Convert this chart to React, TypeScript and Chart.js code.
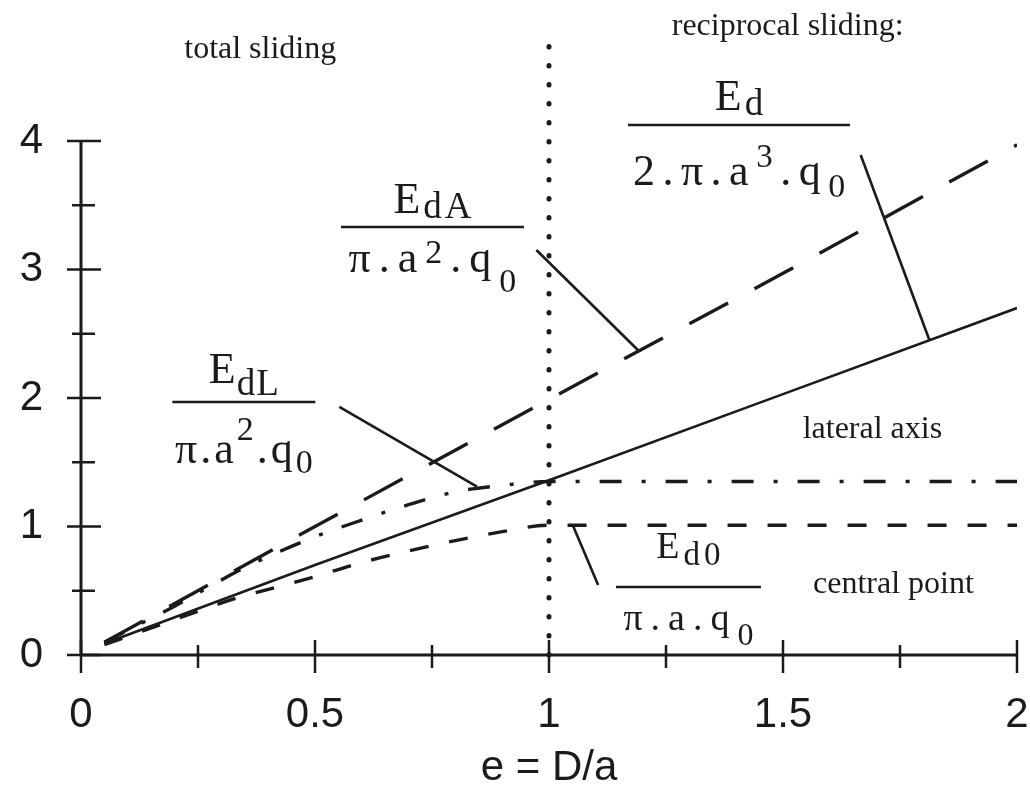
import React, { useEffect, useRef } from 'react';
import { Chart, registerables } from 'chart.js';

Chart.register(...registerables);

// Normalised dissipated energy against eccentricity e = D/a
const edX = [0.05, 0.5, 1.0, 1.5, 2.0];
const edY = [0.09, 0.7, 1.36, 2.03, 2.7];

const edAX = [0.05, 0.5, 1.0, 1.5, 2.0];
const edAY = [0.1, 1.0, 1.99, 2.97, 3.97];

const edLX = [0.05, 0.2, 0.35, 0.5, 0.6, 0.7, 0.8, 0.9, 1.0, 2.0];
const edLY = [0.1, 0.38, 0.68, 0.92, 1.05, 1.17, 1.27, 1.32, 1.35, 1.35];

const ed0X = [0.05, 0.25, 0.33, 0.42, 0.5, 0.6, 0.7, 0.8, 0.9, 1.0, 2.0];
const ed0Y = [0.08, 0.34, 0.44, 0.53, 0.61, 0.72, 0.81, 0.89, 0.96, 1.01, 1.01];

// limit between total and reciprocal sliding
const slidingLimit = 1;
const limitTop = 4.82;

const xTickLabels = ['0', '0.5', '1', '1.5', '2'];
const yTickLabels = ['0', '1', '2', '3', '4'];

const INK = '#1b1b1b';
const SERIF = '"Liberation Serif", "Times New Roman", serif';
const SANS = '"Liberation Sans", Arial, sans-serif';

type Run = { t: string; size: number; dy: number };
type FractionNote = {
  x: number;
  y: number;
  width: number;
  numSpacing: number;
  denSpacing: number;
  num: Run[];
  den: Run[];
  leader: [number, number, number, number];
};

const fractions: FractionNote[] = [
  {
    x: 1.406, y: 4.125, width: 222, numSpacing: 3, denSpacing: 7.5,
    num: [{ t: 'E', size: 44, dy: -15 }, { t: 'd', size: 37, dy: -10 }],
    den: [
      { t: '2.π.a', size: 44, dy: 60 },
      { t: '3', size: 33, dy: 42 },
      { t: '.q', size: 44, dy: 60 },
      { t: '0', size: 34, dy: 72 },
    ],
    leader: [1.666, 3.891, 1.813, 2.449],
  },
  {
    x: 0.751, y: 3.331, width: 183, numSpacing: 3, denSpacing: 8,
    num: [{ t: 'E', size: 44, dy: -14 }, { t: 'dA', size: 37, dy: -9 }],
    den: [
      { t: 'π.a', size: 44, dy: 45 },
      { t: '2', size: 34, dy: 36 },
      { t: '.q', size: 44, dy: 45 },
      { t: '0', size: 34, dy: 65 },
    ],
    leader: [0.973, 3.152, 1.191, 2.37],
  },
  {
    x: 0.348, y: 1.969, width: 143, numSpacing: 1, denSpacing: 3,
    num: [{ t: 'E', size: 44, dy: -19 }, { t: 'dL', size: 37, dy: -7 }],
    den: [
      { t: 'π.a', size: 44, dy: 61 },
      { t: '2', size: 34, dy: 38 },
      { t: '.q', size: 44, dy: 61 },
      { t: '0', size: 34, dy: 71 },
    ],
    leader: [0.552, 1.93, 0.846, 1.31],
  },
  {
    x: 1.298, y: 0.529, width: 145, numSpacing: 4, denSpacing: 8,
    num: [{ t: 'E', size: 38, dy: -29 }, { t: 'd0', size: 33, dy: -22 }],
    den: [
      { t: 'π.a.q', size: 38, dy: 43 },
      { t: '0', size: 32, dy: 58 },
    ],
    leader: [1.052, 1.0, 1.105, 0.545],
  },
];

const labels = [
  { t: 'total sliding', x: 0.383, y: 4.646 },
  { t: 'reciprocal sliding:', x: 1.51, y: 4.825 },
  { t: 'lateral axis', x: 1.691, y: 1.689 },
  { t: 'central point', x: 1.736, y: 0.482 },
];

const toPoints = (xs: number[], ys: number[]) => xs.map((x, i) => ({ x, y: ys[i] }));

const drawRuns = (ctx: CanvasRenderingContext2D, runs: Run[], cx: number, cy: number, spacing: number) => {
  (ctx as any).letterSpacing = `${spacing}px`;
  const widths = runs.map((r) => {
    ctx.font = `${r.size}px ${SERIF}`;
    return ctx.measureText(r.t).width;
  });
  const total = widths.reduce((a, b) => a + b, 0) - spacing;
  let x = cx - total / 2;
  runs.forEach((r, i) => {
    ctx.font = `${r.size}px ${SERIF}`;
    ctx.fillText(r.t, x, cy + r.dy);
    x += widths[i];
  });
  (ctx as any).letterSpacing = '0px';
};

const axesAndNotes = {
  id: 'axesAndNotes',
  afterDatasetsDraw(chart: any) {
    const { ctx } = chart;
    const xs = chart.scales.x;
    const ys = chart.scales.y;
    const x0 = xs.getPixelForValue(0);
    const y0 = ys.getPixelForValue(0);

    ctx.save();
    ctx.strokeStyle = INK;
    ctx.fillStyle = INK;
    ctx.lineCap = 'butt';

    // axis lines
    ctx.lineWidth = 3;
    ctx.beginPath();
    ctx.moveTo(x0, ys.getPixelForValue(ys.max));
    ctx.lineTo(x0, y0);
    ctx.moveTo(x0, y0);
    ctx.lineTo(xs.getPixelForValue(xs.max), y0);
    ctx.stroke();

    // tick marks crossing the axes
    ctx.lineWidth = 2.5;
    ctx.beginPath();
    ys.ticks.forEach((t: any) => {
      const p = ys.getPixelForValue(t.value);
      const major = Number.isInteger(t.value);
      ctx.moveTo(x0 - (major ? 14 : 9), p);
      ctx.lineTo(x0 + (major ? 20 : 14), p);
    });
    xs.ticks.forEach((t: any) => {
      const p = xs.getPixelForValue(t.value);
      const major = Number.isInteger(t.value * 2);
      ctx.moveTo(p, y0 - (major ? 15 : 10));
      ctx.lineTo(p, y0 + (major ? 18 : 13));
    });
    ctx.stroke();

    // region labels
    ctx.textAlign = 'center';
    ctx.textBaseline = 'alphabetic';
    ctx.font = `32px ${SERIF}`;
    labels.forEach((l) => {
      ctx.fillText(l.t, xs.getPixelForValue(l.x), ys.getPixelForValue(l.y));
    });

    // normalised energy fractions with leader lines
    ctx.textAlign = 'left';
    fractions.forEach((f) => {
      const cx = xs.getPixelForValue(f.x);
      const cy = ys.getPixelForValue(f.y);
      ctx.lineWidth = 2.6;
      ctx.beginPath();
      ctx.moveTo(cx - f.width / 2, cy);
      ctx.lineTo(cx + f.width / 2, cy);
      ctx.stroke();
      drawRuns(ctx, f.num, cx, cy, f.numSpacing);
      drawRuns(ctx, f.den, cx, cy, f.denSpacing);

      const [ax, ay, bx, by] = f.leader;
      ctx.lineWidth = 2.6;
      ctx.beginPath();
      ctx.moveTo(xs.getPixelForValue(ax), ys.getPixelForValue(ay));
      ctx.lineTo(xs.getPixelForValue(bx), ys.getPixelForValue(by));
      ctx.stroke();
    });
    ctx.restore();
  },
};

export default function App() {
  const canvasRef = useRef<HTMLCanvasElement | null>(null);

  useEffect(() => {
    const canvas = canvasRef.current;
    if (!canvas) return;

    const chart = new Chart(canvas, {
      type: 'line',
      data: {
        datasets: [
          {
            label: 'Ed',
            data: toPoints(edX, edY),
            borderColor: INK,
            borderWidth: 2.6,
            pointRadius: 0,
          },
          {
            label: 'EdA',
            data: toPoints(edAX, edAY),
            borderColor: INK,
            borderWidth: 3.4,
            borderDash: [44, 30],
            pointRadius: 0,
          },
          {
            label: 'EdL',
            data: toPoints(edLX, edLY),
            borderColor: INK,
            borderWidth: 3.4,
            borderDash: [22, 20, 4, 20],
            cubicInterpolationMode: 'monotone',
            pointRadius: 0,
          },
          {
            label: 'Ed0',
            data: toPoints(ed0X, ed0Y),
            borderColor: INK,
            borderWidth: 3.4,
            borderDash: [19, 21],
            cubicInterpolationMode: 'monotone',
            pointRadius: 0,
          },
          {
            label: 'limit',
            data: [
              { x: slidingLimit, y: 0 },
              { x: slidingLimit, y: limitTop },
            ],
            borderColor: INK,
            borderWidth: 5,
            borderDash: [0.5, 18.5],
            borderCapStyle: 'round',
            pointRadius: 0,
            clip: false,
          } as any,
        ],
      },
      options: {
        responsive: false,
        animation: false,
        devicePixelRatio: 1,
        layout: { padding: { left: 0, right: 13, top: 141, bottom: 0 } },
        plugins: {
          legend: { display: false },
          tooltip: { enabled: false },
        },
        scales: {
          x: {
            type: 'linear',
            min: 0,
            max: 2,
            grid: { display: false, drawTicks: false },
            border: { display: false },
            afterFit: (s: any) => {
              s.height = 145;
              s.paddingLeft = 0;
              s.paddingRight = 0;
            },
            ticks: {
              stepSize: 0.25,
              autoSkip: false,
              maxRotation: 0,
              padding: 35,
              color: INK,
              font: { family: SANS, size: 42 },
              callback: (v: any) => {
                const i = Number(v) * 2;
                return Number.isInteger(i) ? xTickLabels[i] : '';
              },
            },
            title: {
              display: true,
              text: 'e = D/a',
              color: INK,
              font: { family: SANS, size: 42 },
              padding: { top: 0, bottom: 6 },
            },
          },
          y: {
            type: 'linear',
            min: 0,
            max: 4,
            grid: { display: false, drawTicks: false },
            border: { display: false },
            afterFit: (s: any) => {
              s.width = 81;
            },
            ticks: {
              stepSize: 0.5,
              autoSkip: false,
              padding: 38,
              color: INK,
              font: { family: SANS, size: 42 },
              callback: (v: any) => {
                const n = Number(v);
                return Number.isInteger(n) ? yTickLabels[n] : '';
              },
            },
          },
        },
      },
      plugins: [axesAndNotes],
    });

    return () => chart.destroy();
  }, []);

  return (
    <div style={{ position: 'absolute', left: 0, top: 0, width: 1030, height: 800, background: '#fff' }}>
      <canvas ref={canvasRef} width={1030} height={800} style={{ display: 'block' }} />
    </div>
  );
}
